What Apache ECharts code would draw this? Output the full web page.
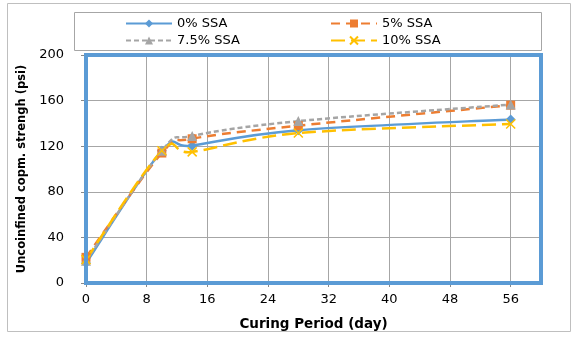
<!DOCTYPE html>
<html><head><meta charset="utf-8">
<script src="https://cdn.jsdelivr.net/npm/echarts@6/dist/echarts.min.js"></script>
<style>html,body{margin:0;padding:0;background:#fff}#c{width:578px;height:338px}</style>
</head><body><div id="c"></div>
<script>
const days = [0, 10, 14, 28, 56];
const ssa0 = [17.5, 116, 120.5, 134, 143.5];
const ssa5 = [22.5, 114, 126.5, 138, 156];
const ssa75 = [19.5, 116, 129, 142, 156.5];
const ssa10 = [20.5, 116, 115, 131.5, 139.5];
const xTicks = [0, 8, 16, 24, 32, 40, 48, 56];
const yTicks = [0, 40, 80, 120, 160, 200];
const names = ['0% SSA', '5% SSA', '7.5% SSA', '10% SSA'];

const font = 'DejaVu Sans';
const chart = echarts.init(document.getElementById('c'));
function pts(v){ return days.map((d,i)=>[d, v[i]]); }
const defs = [
  {name:names[0], vals:ssa0, color:'#5B9BD5', dash:null, symbol:'diamond', size:10},
  {name:names[1], vals:ssa5, color:'#ED7D31', dash:[9,6], symbol:'rect', size:9},
  {name:names[2], vals:ssa75, color:'#A5A5A5', dash:[5,3], symbol:'triangle', size:10},
  {name:names[3], vals:ssa10, color:'#FFC000', dash:[14,6], symbol:'path://M0,0 L10,10 M10,0 L0,10', size:9}
];
// smooth curve (Excel-like cardinal spline) drawn in pixel space from axis coords
function curveSeries(d, idx){
  return {type:'custom', name:'curve'+idx, z:2, silent:true, data:[[0,0]],
    renderItem:function(params, api){
      const p = d.vals.map((v,i)=>api.coord([days[i], v]));
      const n = p.length;
      let path = 'M' + p[0][0] + ',' + p[0][1];
      for (let i=0;i<n-1;i++){
        const p0 = p[Math.max(i-1,0)], p1 = p[i], p2 = p[i+1], p3 = p[Math.min(i+2,n-1)];
        const c1 = [p1[0] + (p2[0]-p0[0])/6, p1[1] + (p2[1]-p0[1])/6];
        const c2 = [p2[0] - (p3[0]-p1[0])/6, p2[1] - (p3[1]-p1[1])/6];
        path += ' C' + c1[0]+','+c1[1]+' '+c2[0]+','+c2[1]+' '+p2[0]+','+p2[1];
      }
      return {type:'path', shape:{pathData:path},
        style:{fill:null, stroke:d.color, lineWidth:2.5, lineDash:d.dash || null}};
    }};
}
const series = defs.map(d => ({type:'line', name:d.name, data:pts(d.vals), z:3,
  symbol:d.symbol, symbolSize:d.size, showAllSymbol:true,
  itemStyle:{color:d.color, borderColor:d.color, borderWidth: d.name==='10% SSA'?1.5:0},
  lineStyle:{width:2.5, color:d.color, type:d.dash || 'solid', opacity:0}}))
  .concat(defs.map(curveSeries));

function leg(name, left, top){
  return {data:[name], left:left, top:top, orient:'horizontal', itemWidth:46, itemHeight:10,
    lineStyle:{opacity:1},
    textStyle:{fontFamily:font, fontSize:13, color:'#000'}, itemGap:4, padding:0};
}
chart.setOption({
  animation:false,
  backgroundColor:'#fff',
  graphic:[
    {type:'rect', shape:{x:7.5,y:3.5,width:563,height:328}, style:{fill:'none', stroke:'#BFBFBF', lineWidth:1}, z:-1},
    {type:'rect', shape:{x:74.5,y:12.5,width:467,height:38}, style:{fill:'none', stroke:'#A6A6A6', lineWidth:1}, z:-1}
  ],
  legend:[leg(names[0],125,17), leg(names[1],330,17), leg(names[2],125,34), leg(names[3],330,34)],
  grid:{left:86, right:37, top:55, bottom:55, show:true, borderColor:'#5B9BD5', borderWidth:4, containLabel:false, z:10},
  xAxis:{type:'value', min:0, max:60, interval:8,
    name:'Curing Period (day)', nameLocation:'middle', nameGap:34,
    nameTextStyle:{fontFamily:font, fontWeight:'bold', fontSize:13.5, color:'#000'},
    axisLine:{show:false}, axisTick:{show:true, length:4, lineStyle:{color:'#888'}},
    axisLabel:{fontFamily:font, fontSize:13, color:'#000', margin:10, showMaxLabel:false,
      formatter:v => xTicks.includes(v) ? String(v) : ''},
    splitLine:{show:true, lineStyle:{color:'#A6A6A6', width:1}}},
  yAxis:{type:'value', min:0, max:200, interval:40,
    name:'Uncoinfined copm. strengh (psi)', nameLocation:'middle', nameGap:58,
    nameTextStyle:{fontFamily:font, fontWeight:'bold', fontSize:11.5, color:'#000'},
    axisLine:{show:false}, axisTick:{show:true, inside:false, length:5, lineStyle:{color:'#888'}},
    axisLabel:{fontFamily:font, fontSize:13, color:'#000', margin:22,
      formatter:v => yTicks.includes(v) ? String(v) : ''},
    splitLine:{show:true, lineStyle:{color:'#A6A6A6', width:1}}},
  series:series
});
</script></body></html>
